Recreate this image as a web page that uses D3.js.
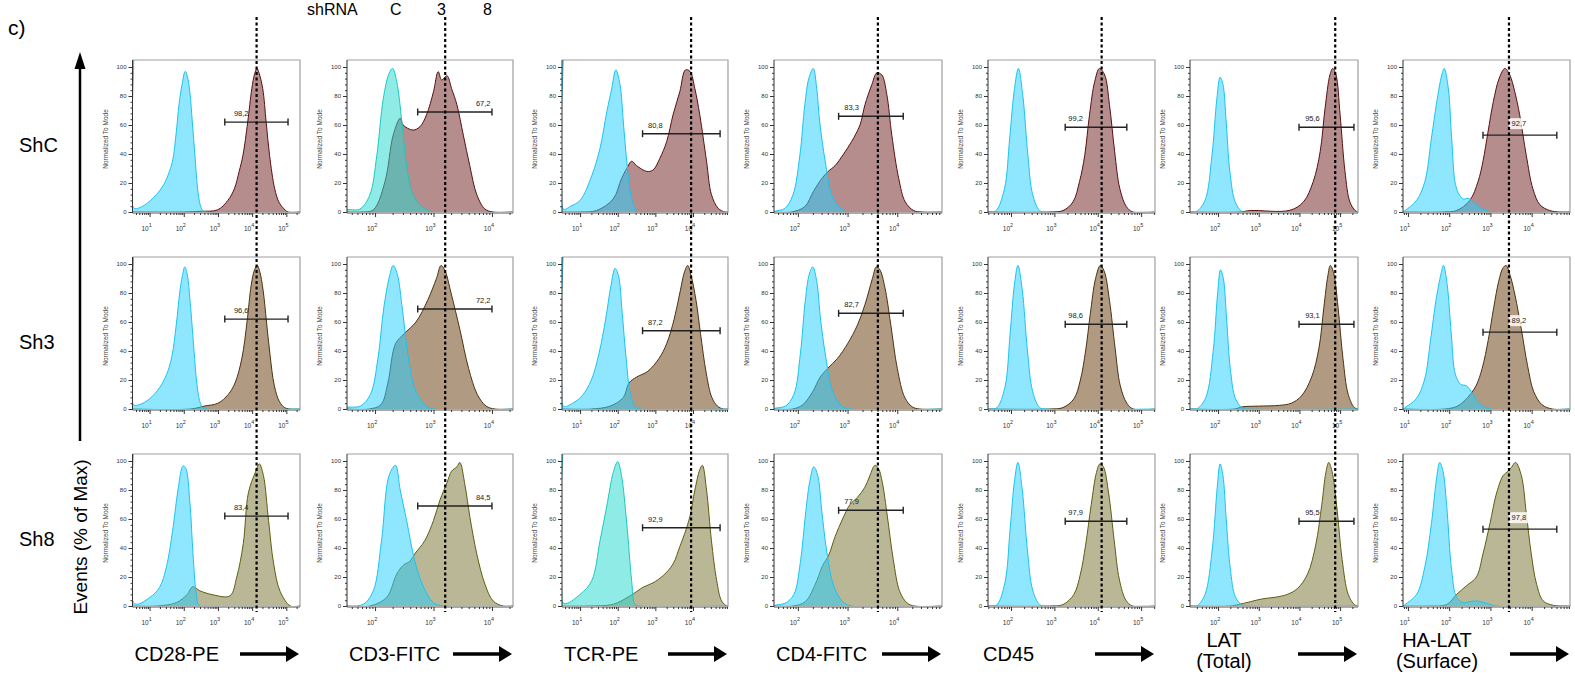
<!DOCTYPE html>
<html>
<head>
<meta charset="utf-8">
<script src="https://cdn.jsdelivr.net/npm/d3@7/dist/d3.min.js"></script>
<style>
  body { margin: 0; background: #fff; }
  svg { font-family: "Liberation Sans", Arial, sans-serif; }
  .tick text { font-size: 6px; fill: #333; }
  .tick line { stroke: #333; }
</style>
</head>
<body>
<svg width="1575" height="674"></svg>
<script>
// ---- data ----
var rowLabels = ["ShC", "Sh3", "Sh8"];
var columnLabels = [["CD28-PE"], ["CD3-FITC"], ["TCR-PE"], ["CD4-FITC"], ["CD45"], ["LAT", "(Total)"], ["HA-LAT", "(Surface)"]];
var headerLabels = ["shRNA", "C", "3", "8"];

// log10 range shown on each column's x axis
var xDomains = [[0.5, 5.4], [1.52, 4.36], [0.52, 4.93], [1.52, 4.9], [1.47, 5.32], [1.31, 5.44], [0.88, 4.93]];
var yTicks = [0, 20, 40, 60, 80, 100];

// gate (log10 lo, log10 hi, % height), dotted marker and label anchor, per column
var gateLo = [3.2, 2.73, 2.66, 2.82, 3.25, 3.99, 2.82];
var gateHi = [5.05, 4.0, 4.72, 4.12, 4.67, 5.34, 4.61];
var gateY = [62, 69, 54, 66, 58.5, 58.5, 53];
var markerLog = [4.13, 3.2, 3.95, 3.61, 4.09, 4.88, 3.45];
var labelLog = [3.68, 3.85, 3.0, 3.08, 3.49, 4.32, 3.69];

var gateValues = [
  ["98,2", "67,2", "80,8", "83,3", "99,2", "95,6", "92,7"],
  ["96,6", "72,2", "87,2", "82,7", "98,6", "93,1", "89,2"],
  ["83,4", "84,5", "92,9", "77,9", "97,9", "95,5", "97,8"]
];

// histograms: [log10 intensity, % of max]
var isoShC = [
  [[0.5,120],[0.52,120],[0.53,3],[0.64,2.5],[0.8,4],[1.03,8],[1.2,12],[1.41,18.6],[1.55,26],[1.67,35],[1.78,55],[1.86,74],[1.95,88],[2.04,97],[2.1,94],[2.18,82],[2.25,62],[2.33,38],[2.4,17],[2.48,5],[2.55,1],[2.65,0]],
  [[1.52,1.4],[1.74,2],[1.91,11.7],[2.03,39],[2.14,78],[2.24,95.6],[2.3,99],[2.37,90],[2.46,62],[2.54,32],[2.65,11.7],[2.83,2.7],[3.0,0]],
  [[0.52,120],[0.54,120],[0.56,2],[0.75,4],[1.0,8],[1.31,25],[1.53,44],[1.71,69],[1.84,85],[1.95,98],[2.06,88],[2.15,62],[2.24,35],[2.37,9.4],[2.5,0.5],[2.6,0]],
  [[1.54,0.5],[1.74,2.5],[1.9,11.7],[2.04,39],[2.14,74],[2.22,92],[2.31,99],[2.38,85],[2.44,62],[2.55,35],[2.68,12],[2.85,2.5],[3.02,0]],
  [[1.55,0],[1.66,1],[1.85,16],[1.97,51],[2.08,85],[2.17,99],[2.27,81],[2.39,39],[2.5,12],[2.66,1],[2.81,0]],
  [[1.4,0],[1.48,0.5],[1.68,8],[1.85,39],[1.97,78],[2.05,93],[2.12,88],[2.2,62],[2.29,28],[2.42,7],[2.58,0.5],[2.7,0]],
  [[0.93,1],[1.21,8],[1.41,21],[1.57,51],[1.7,76],[1.82,94.5],[1.88,99],[1.98,85],[2.06,51],[2.18,16],[2.34,9],[2.46,9.4],[2.62,6],[2.82,2],[3.06,0]]
];
var sampleShC = [
  [[2.0,0],[2.5,0.5],[2.99,1.5],[3.29,8],[3.48,16],[3.62,28],[3.73,39],[3.87,62],[3.99,85],[4.07,95],[4.14,99],[4.2,96],[4.31,85],[4.41,62],[4.51,39],[4.66,16],[4.78,7],[4.9,3],[5.05,0]],
  [[1.74,0],[1.97,1.5],[2.17,21],[2.31,53],[2.43,64.6],[2.48,60],[2.65,56.5],[2.77,58.9],[2.88,67],[3.0,83],[3.08,96.8],[3.14,91],[3.23,94],[3.31,85],[3.4,74],[3.51,53],[3.62,32],[3.74,12],[3.88,2],[4.02,0]],
  [[1.0,0],[1.44,1],[1.88,9],[2.1,23],[2.24,30],[2.37,35],[2.5,32],[2.77,28],[2.94,29],[3.12,37],[3.3,48.5],[3.47,67],[3.65,83],[3.8,98],[3.92,97],[4.05,85],[4.18,67],[4.36,35],[4.49,12],[4.67,2.5],[4.85,0]],
  [[1.87,0],[2.14,3.7],[2.31,14],[2.48,23],[2.61,28],[2.75,32],[2.92,40],[3.08,48.5],[3.25,60],[3.35,74],[3.49,88],[3.59,96],[3.69,94.5],[3.79,81],[3.89,53],[4.03,23],[4.16,7],[4.33,1],[4.5,0]],
  [[2.89,0],[3.2,1],[3.43,7],[3.58,21],[3.7,39],[3.81,67],[3.93,90],[4.04,99],[4.16,94.5],[4.27,74],[4.39,41.6],[4.51,16],[4.66,3.7],[4.81,0]],
  [[2.54,0],[2.79,1],[3.77,1.2],[4.1,7],[4.34,21],[4.51,41.6],[4.63,71.5],[4.75,94.5],[4.82,99],[4.9,94.5],[5.0,67],[5.12,28],[5.24,7],[5.37,1],[5.44,0]],
  [[1.85,0],[2.18,1],[2.5,8],[2.7,21],[2.82,35],[2.94,55],[3.07,76],[3.21,92],[3.35,99],[3.47,94.5],[3.59,83],[3.71,67],[3.87,39],[4.03,16],[4.2,5],[4.44,1],[4.68,0]]
];

var isoSh3 = [
  [[0.5,120],[0.52,120],[0.53,3],[0.7,3],[1.0,7],[1.3,15],[1.5,24],[1.65,36],[1.78,58],[1.88,80],[1.96,92],[2.03,98],[2.1,93],[2.2,70],[2.3,40],[2.38,18],[2.46,6],[2.55,1],[2.65,0]],
  [[1.52,1],[1.75,2],[1.92,10],[2.05,35],[2.15,70],[2.25,92],[2.31,99],[2.38,93],[2.47,68],[2.56,38],[2.68,14],[2.85,3],[3.0,0]],
  [[0.52,120],[0.54,120],[0.56,2],[0.8,4],[1.05,9],[1.3,20],[1.5,38],[1.68,62],[1.82,85],[1.93,97],[2.02,92],[2.12,66],[2.22,36],[2.34,10],[2.48,1],[2.6,0]],
  [[1.54,0.5],[1.75,2],[1.92,10],[2.05,38],[2.15,75],[2.23,93],[2.3,98],[2.38,88],[2.45,64],[2.56,36],[2.7,12],[2.88,2],[3.05,0]],
  [[1.55,0],[1.68,1],[1.86,15],[1.98,52],[2.08,86],[2.16,99],[2.26,82],[2.38,40],[2.5,12],[2.66,1],[2.8,0]],
  [[1.4,0],[1.5,0.5],[1.7,8],[1.88,40],[1.99,80],[2.06,96],[2.13,90],[2.21,62],[2.3,28],[2.43,7],[2.6,0.5],[2.7,0]],
  [[0.93,1],[1.2,7],[1.4,20],[1.55,48],[1.68,75],[1.8,93],[1.86,99],[1.95,86],[2.05,52],[2.15,24],[2.28,17],[2.42,16],[2.58,10],[2.78,3],[3.0,0]]
];
var sampleSh3 = [
  [[2.2,0],[2.6,2],[3.0,4],[3.3,10],[3.5,18],[3.7,35],[3.85,60],[3.97,85],[4.07,96],[4.15,99],[4.22,95],[4.32,82],[4.42,60],[4.52,38],[4.65,16],[4.8,5],[4.95,1],[5.1,0]],
  [[1.9,0],[2.1,3],[2.22,18],[2.35,45],[2.5,52],[2.7,60],[2.9,75],[3.05,90],[3.13,99],[3.2,95],[3.3,80],[3.45,55],[3.6,28],[3.75,10],[3.9,2],[4.05,0]],
  [[1.3,0],[1.8,2],[2.15,8],[2.3,18],[2.5,22],[2.8,26],[3.1,35],[3.3,45],[3.5,62],[3.65,80],[3.78,95],[3.86,99],[3.95,92],[4.08,75],[4.2,52],[4.35,25],[4.5,8],[4.65,2],[4.8,0]],
  [[1.9,0],[2.1,3],[2.3,12],[2.45,22],[2.6,28],[2.8,35],[3.0,45],[3.2,58],[3.35,72],[3.5,90],[3.58,98],[3.65,96],[3.75,84],[3.87,58],[4.0,28],[4.15,8],[4.3,1.5],[4.45,0]],
  [[2.9,0],[3.2,1],[3.45,7],[3.6,20],[3.72,40],[3.83,66],[3.95,90],[4.06,99],[4.15,95],[4.27,75],[4.4,42],[4.52,16],[4.67,4],[4.82,0]],
  [[2.4,0],[2.6,1.5],[3.0,2],[3.5,2.5],[3.8,4],[4.05,9],[4.3,22],[4.48,42],[4.6,70],[4.7,92],[4.76,99],[4.84,94],[4.95,70],[5.07,35],[5.2,10],[5.35,1],[5.44,0]],
  [[1.9,0],[2.2,2],[2.45,8],[2.65,16],[2.8,28],[2.95,48],[3.08,70],[3.2,88],[3.3,97],[3.38,99],[3.48,92],[3.6,78],[3.75,55],[3.9,30],[4.05,12],[4.25,3],[4.5,0]]
];

var isoSh8 = [
  [[0.5,120],[0.52,120],[0.56,1.6],[1.0,5.8],[1.29,12.8],[1.49,26.8],[1.69,54.8],[1.83,80],[1.98,96.7],[2.06,95],[2.18,71],[2.27,36],[2.37,8],[2.47,0]],
  [[1.57,0],[1.8,1.2],[1.97,10.5],[2.11,45],[2.24,90],[2.35,97],[2.43,80],[2.54,59],[2.68,31],[2.83,13],[3.0,2.3],[3.17,0]],
  [[0.52,120],[0.54,120],[0.56,2],[1.0,8],[1.31,17.5],[1.53,45],[1.71,69],[1.88,92],[2.0,99.5],[2.1,90],[2.24,57],[2.37,17.5],[2.46,1],[2.59,0]],
  [[1.54,0.5],[1.75,2],[1.92,8],[2.05,30],[2.15,62],[2.24,86],[2.32,96],[2.4,90],[2.48,66],[2.58,38],[2.72,14],[2.9,3],[3.08,0]],
  [[1.55,0],[1.68,1],[1.86,16],[1.98,53],[2.08,86],[2.16,99],[2.26,80],[2.38,38],[2.5,11],[2.66,1],[2.8,0]],
  [[1.4,0],[1.5,0.5],[1.68,8],[1.86,40],[1.98,82],[2.05,98],[2.12,90],[2.2,60],[2.3,26],[2.43,6],[2.6,0.5],[2.7,0]],
  [[0.93,1],[1.21,8],[1.41,27],[1.57,57],[1.69,87],[1.77,99],[1.85,93],[1.94,69],[2.06,24.5],[2.18,6],[2.34,2.3],[2.5,3],[2.66,3.5],[2.9,2],[3.15,0]]
];
var sampleSh8 = [
  [[1.2,0],[1.78,2.3],[2.1,8],[2.26,13.3],[2.47,10.5],[2.86,7.7],[3.35,7],[3.55,20],[3.74,43],[3.89,78],[4.09,92],[4.21,98],[4.33,90],[4.48,59],[4.63,29],[4.82,10],[5.12,0]],
  [[1.91,0],[2.2,6],[2.37,22],[2.48,28],[2.6,31],[2.68,36],[2.85,45],[3.0,59],[3.11,73],[3.23,85],[3.31,93],[3.4,96],[3.45,99],[3.54,83],[3.62,62],[3.74,36],[3.88,15],[4.02,3.5],[4.19,0]],
  [[1.18,0],[1.88,1.2],[2.33,7],[2.68,13],[2.94,16],[3.21,21],[3.47,29],[3.65,41],[3.78,50],[3.92,62],[4.05,80],[4.18,94],[4.25,97],[4.36,80],[4.49,45],[4.63,17.5],[4.76,3.5],[4.9,0]],
  [[1.9,0],[2.15,3],[2.35,15],[2.5,28],[2.62,35],[2.75,48],[2.9,60],[3.05,70],[3.2,75],[3.35,82],[3.45,90],[3.55,97],[3.62,95],[3.7,85],[3.8,62],[3.92,32],[4.05,10],[4.2,2],[4.35,0]],
  [[2.9,0],[3.2,1],[3.45,8],[3.6,22],[3.72,42],[3.85,70],[3.97,92],[4.05,98],[4.13,96],[4.25,78],[4.38,45],[4.5,18],[4.65,4],[4.8,0]],
  [[2.3,0],[2.5,1],[2.8,3],[3.1,5],[3.4,6],[3.7,8],[3.95,12],[4.2,22],[4.4,42],[4.55,70],[4.65,92],[4.72,99],[4.8,93],[4.92,68],[5.05,32],[5.2,8],[5.35,1],[5.44,0]],
  [[1.53,0],[1.94,1],[2.18,8],[2.42,14],[2.66,20],[2.82,36],[2.99,57],[3.15,78],[3.31,90],[3.43,93],[3.51,95.6],[3.61,99],[3.75,90],[3.87,64],[3.99,36],[4.12,15],[4.28,3.5],[4.52,0.5],[4.84,0]]
];

var isotypes = [isoShC, isoSh3, isoSh8];
var samples = [sampleShC, sampleSh3, sampleSh8];

// ---- layout / style ----
var colLeft = [132.5, 347, 562, 774, 988, 1190, 1403];
var colRight = [300, 513, 728, 942, 1155, 1358, 1570];
var rowTop = [60, 257, 454];
var plotH = 152;

var rowFill = ["#b58d8d", "#b19a82", "#b9b795"];
var rowStroke = ["#5a1010", "#4c3212", "#5e5e12"];
var turquoise = {"0-1": true, "2-2": true};

var svg = d3.select("svg");
var pow = function(v){ return Math.pow(10, v); };

var xScales = xDomains.map(function(d, c){
  return d3.scaleLog().domain([pow(d[0]), pow(d[1])]).range([colLeft[c], colRight[c]]);
});

// header
svg.append("text").attr("x", 8).attr("y", 35).attr("font-size", 21).text("c)");
var headerX = [307, 390, 437, 483];
headerLabels.forEach(function(t, i){
  svg.append("text").attr("x", headerX[i]).attr("y", 15).attr("font-size", 16).text(t);
});

// row labels
rowLabels.forEach(function(t, r){
  svg.append("text").attr("x", 19).attr("y", rowTop[r] + 92).attr("font-size", 20).text(t);
});

// vertical axis title + arrow
svg.append("text")
  .attr("transform", "translate(87,537) rotate(-90)")
  .attr("text-anchor", "middle")
  .attr("font-size", 19)
  .text("Events (% of Max)");
svg.append("line").attr("x1", 80).attr("x2", 80).attr("y1", 441).attr("y2", 66)
  .attr("stroke", "#000").attr("stroke-width", 2.5);
svg.append("path").attr("d", "M80,52 L74.5,69 L85.5,69 Z").attr("fill", "#000");

rowLabels.forEach(function(rl, r){
  columnLabels.forEach(function(cl, c){
    var left = colLeft[c], right = colRight[c], top = rowTop[r];
    var x = xScales[c];
    var y = d3.scaleLinear().domain([0, 100]).range([top + plotH, top + 7]);
    var g = svg.append("g");
    var clipId = "clip" + r + "_" + c;
    g.append("clipPath").attr("id", clipId).append("rect")
      .attr("x", left).attr("y", top).attr("width", right - left).attr("height", plotH);

    var pad = function(pts){ return [[xDomains[c][0], 0]].concat(pts, [[xDomains[c][1], 0]]); };
    var area = d3.area()
      .x(function(d){ return x(pow(d[0])); })
      .y0(y(0))
      .y1(function(d){ return y(d[1]); })
      .curve(d3.curveCatmullRom.alpha(0.5));
    var line = d3.line()
      .x(function(d){ return x(pow(d[0])); })
      .y(function(d){ return y(d[1]); })
      .curve(d3.curveCatmullRom.alpha(0.5));

    var isTurq = turquoise[r + "-" + c];
    var cyanFill = isTurq ? "#29d9d0" : "#29cfff";
    var cyanLine = isTurq ? "#1cc9c0" : "#1cc3f0";

    var plot = g.append("g").attr("clip-path", "url(#" + clipId + ")");
    var sPts = pad(samples[r][c]);
    var iPts = pad(isotypes[r][c]);
    plot.append("path").attr("d", area(sPts)).attr("fill", rowFill[r]);
    plot.append("path").attr("d", line(sPts)).attr("fill", "none").attr("stroke", rowStroke[r]).attr("stroke-width", 1);
    plot.append("path").attr("d", area(iPts)).attr("fill", cyanFill).attr("fill-opacity", 0.52);
    plot.append("path").attr("d", line(iPts)).attr("fill", "none").attr("stroke", cyanLine).attr("stroke-width", 1);

    // frame
    g.append("path")
      .attr("d", "M" + left + "," + top + "H" + right + "V" + (top + plotH + 1))
      .attr("fill", "none").attr("stroke", "#a0a0a0").attr("stroke-width", 1.2);
    g.append("line").attr("x1", left).attr("x2", left).attr("y1", top).attr("y2", top + plotH + 1)
      .attr("stroke", "#333").attr("stroke-width", 1);
    g.append("line").attr("x1", left).attr("x2", right).attr("y1", top + plotH + 1).attr("y2", top + plotH + 1)
      .attr("stroke", "#555").attr("stroke-width", 1);

    // y axis
    var yMinor = g.append("g").attr("transform", "translate(" + left + ",0)")
      .call(d3.axisLeft(y).tickValues(d3.range(0, 101, 4)).tickSize(2).tickFormat(""));
    yMinor.select(".domain").remove();
    var yAx = g.append("g").attr("transform", "translate(" + left + ",0)")
      .call(d3.axisLeft(y).tickValues(yTicks).tickSize(4).tickPadding(2));
    yAx.select(".domain").remove();
    yAx.selectAll("text").attr("font-size", 6).attr("font-family", "Liberation Sans, Arial, sans-serif");

    g.append("text")
      .attr("transform", "translate(" + (left - 25) + "," + (top + 79) + ") rotate(-90)")
      .attr("text-anchor", "middle").attr("font-size", 6.5).attr("fill", "#444")
      .text("Normalized To Mode");

    // x axis
    var lo = xDomains[c][0], hi = xDomains[c][1];
    var majors = d3.range(Math.ceil(lo), Math.floor(hi) + 1);
    var minors = [];
    d3.range(Math.floor(lo), Math.ceil(hi)).forEach(function(e){
      for (var k = 2; k <= 9; k++) {
        var v = Math.log10(k) + e;
        if (v > lo && v < hi) minors.push(pow(v));
      }
    });
    var yb = top + plotH + 1;
    var xMinor = g.append("g").attr("transform", "translate(0," + yb + ")")
      .call(d3.axisBottom(x).tickValues(minors).tickSize(2).tickFormat(""));
    xMinor.select(".domain").remove();
    var xAx = g.append("g").attr("transform", "translate(0," + yb + ")")
      .call(d3.axisBottom(x).tickValues(majors.map(pow)).tickSize(4).tickFormat(""));
    xAx.select(".domain").remove();
    majors.forEach(function(e){
      var t = g.append("text").attr("x", x(pow(e)) - 3).attr("y", yb + 18)
        .attr("text-anchor", "middle").attr("font-size", 6.5).attr("fill", "#333");
      t.append("tspan").text("10");
      t.append("tspan").attr("dy", -4.5).attr("font-size", 5.5).text(e);
    });

    // gate
    var gy = y(gateY[c]);
    var gx1 = x(pow(gateLo[c])), gx2 = x(pow(gateHi[c]));
    g.append("line").attr("x1", gx1).attr("x2", gx2).attr("y1", gy).attr("y2", gy)
      .attr("stroke", "#222").attr("stroke-width", 1.4);
    [gx1, gx2].forEach(function(gx){
      g.append("line").attr("x1", gx).attr("x2", gx).attr("y1", gy - 3.5).attr("y2", gy + 3.5)
        .attr("stroke", "#222").attr("stroke-width", 1.4);
    });
    var lx = x(pow(labelLog[c]));
    if (c === 6) {
      g.append("rect").attr("x", lx - 10).attr("y", gy - 17).attr("width", 20).attr("height", 11)
        .attr("fill", "#fff").attr("fill-opacity", 0.85);
    }
    g.append("text").attr("x", lx).attr("y", gy - (c === 6 ? 9 : 6))
      .attr("text-anchor", "middle").attr("font-size", 7.5).attr("fill", "#222")
      .text(gateValues[r][c]);
  });
});

// dotted marker lines through all rows
markerLog.forEach(function(m, c){
  var mx = xScales[c](pow(m));
  svg.append("line").attr("x1", mx).attr("x2", mx).attr("y1", 17).attr("y2", 612)
    .attr("stroke", "#000").attr("stroke-width", 2.2).attr("stroke-dasharray", "3,2.5");
});

// column titles and arrows
columnLabels.forEach(function(lines, c){
  var left = colLeft[c], right = colRight[c];
  if (lines.length === 1) {
    svg.append("text").attr("x", c === 4 ? left - 5 : left + 2).attr("y", 661)
      .attr("font-size", 20).text(lines[0]);
  } else {
    lines.forEach(function(t, i){
      svg.append("text").attr("x", left + 34).attr("y", 647 + i * 21)
        .attr("text-anchor", "middle").attr("font-size", 20).text(t);
    });
  }
  svg.append("line").attr("x1", right - 60).attr("x2", right - 12).attr("y1", 654).attr("y2", 654)
    .attr("stroke", "#000").attr("stroke-width", 3.5);
  svg.append("path")
    .attr("d", "M" + (right - 1) + ",654 L" + (right - 14) + ",646 L" + (right - 14) + ",662 Z")
    .attr("fill", "#000");
});
</script>
</body>
</html>
